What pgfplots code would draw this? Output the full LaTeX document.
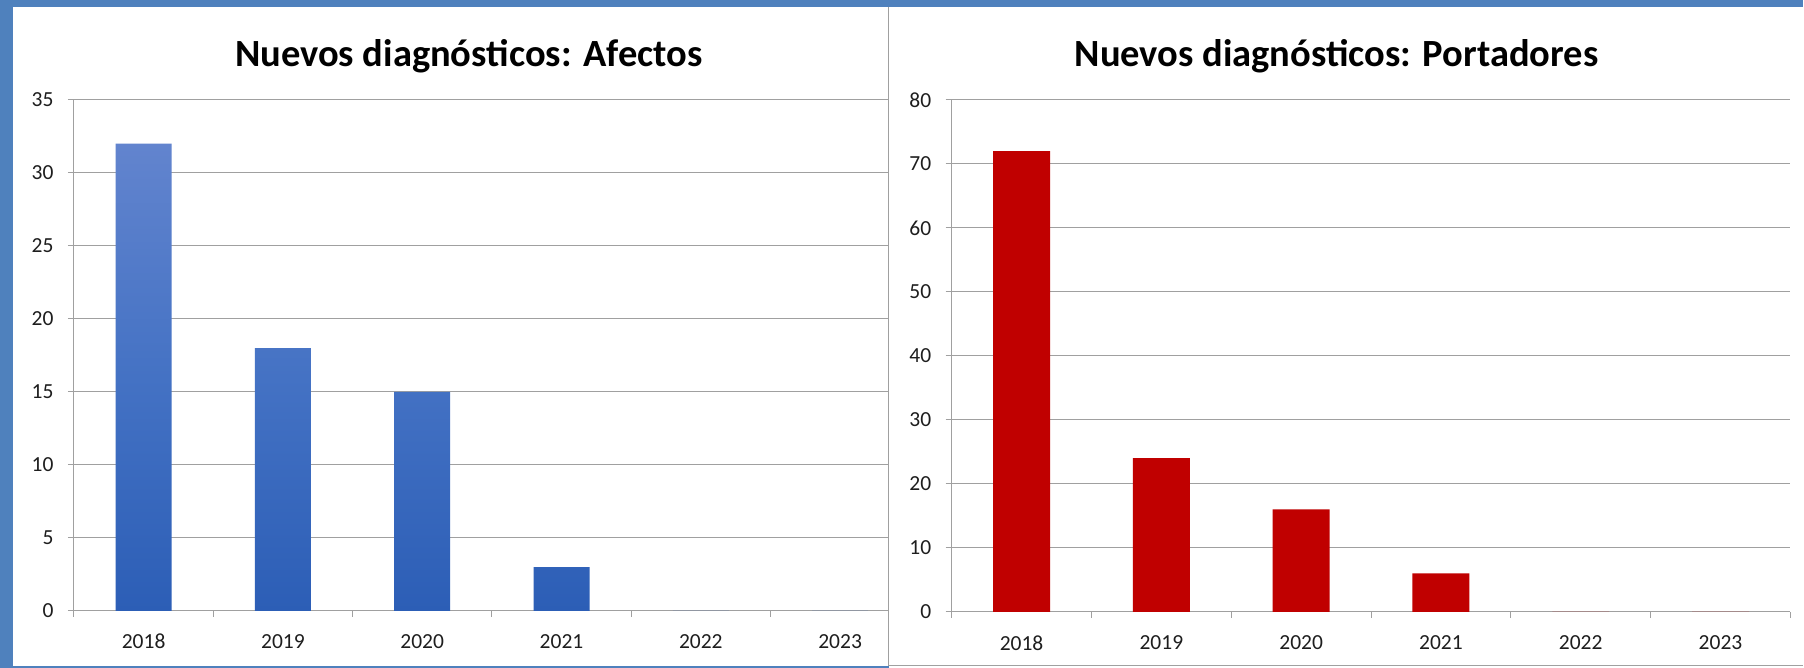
\documentclass[border=0pt]{standalone}
\usepackage{pgfplots}
\pgfplotsset{compat=1.18}
\usepackage{fontspec}
\setmainfont{Carlito}
\definecolor{bgblue}{RGB}{79,129,189}
\definecolor{gridgray}{RGB}{160,160,160}
\definecolor{bartop}{RGB}{98,132,206}
\definecolor{barmid}{RGB}{68,114,196}
\definecolor{barbot}{RGB}{44,94,182}
\definecolor{barred}{RGB}{192,0,0}
\definecolor{ticktext}{RGB}{30,30,30}
\pgfplotsset{
  excelstyle/.style={
    scale only axis,
    axis x line=bottom, axis y line=left,
    axis line style={gridgray, line width=1pt, -},
    ymajorgrids, grid style={gridgray, line width=1pt},
    ymin=0,
    xtick={0,...,5},
    xticklabels={2018,2019,2020,2021,2022,2023},
    minor xtick={-0.5,0.5,...,5.5},
    major x tick style={draw=none},
    minor x tick style={gridgray, line width=1pt},
    major y tick style={gridgray, line width=1pt},
    tick align=outside,
    major tick length=6pt, minor tick length=6pt,
    ticklabel style={font=\fontsize{21.5}{25}\selectfont, text=ticktext},
    /pgf/number format/assume math mode=true,
    yticklabel style={xshift=-11pt},
    xticklabel style={yshift=-14pt},
    clip=false,
  }
}
\begin{document}
\begin{tikzpicture}
\fill[bgblue] (0pt,0pt) rectangle (1804pt,668pt);
\fill[white] (13pt,2pt) rectangle (889pt,661pt);
\fill[white] (889pt,0pt) rectangle (1804pt,661pt);
\draw[gridgray, line width=1.2pt] (889pt,661pt) -- (889pt,2pt) -- (1804pt,2pt);
\begin{axis}[excelstyle,
  at={(74pt,57pt)}, anchor=south west,
  width=815pt, height=511pt,
  xmin=-0.5, xmax=5.349,
  ymax=35, ytick={0,5,...,35},
]
\addplot[ybar, bar width=56pt, draw=none, top color=bartop, bottom color=barbot, middle color=barmid]
  coordinates {(0,32) (1,18) (2,15) (3,3) (4,0) (5,0)};
\end{axis}
\begin{axis}[excelstyle,
  at={(952pt,56pt)}, anchor=south west,
  width=839pt, height=512pt,
  xmin=-0.5, xmax=5.5,
  ymax=80, ytick={0,10,...,80},
]
\addplot[ybar, bar width=57pt, draw=none, fill=barred]
  coordinates {(0,72) (1,24) (2,16) (3,6) (4,0) (5,0)};
\end{axis}
\node[anchor=base, font=\fontsize{38.5}{44}\selectfont\bfseries] at (469pt,601pt) {Nuevos diagnósticos: Afectos};
\node[anchor=base, font=\fontsize{38.5}{44}\selectfont\bfseries] at (1337pt,601pt) {Nuevos diagnósticos: Portadores};
\end{tikzpicture}
\end{document}
